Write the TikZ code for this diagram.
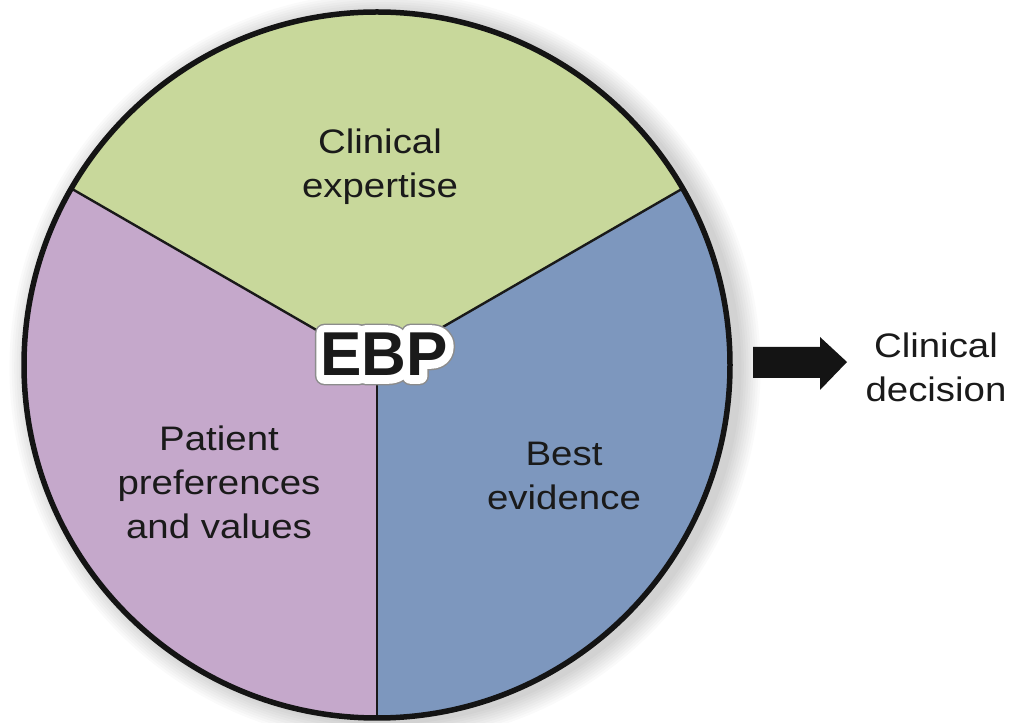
\documentclass[tikz,border=0pt]{standalone}
\usepackage{fontspec}
\setmainfont{Liberation Sans}
\newfontfamily\labelfont[FakeStretch=1.13]{Liberation Sans}
\usetikzlibrary{calc}
\definecolor{pieGreen}{HTML}{C8D89B}
\definecolor{piePurple}{HTML}{C5A8CB}
\definecolor{pieBlue}{HTML}{7D97BE}
\definecolor{inkText}{HTML}{1A1A1A}
\newcommand\haloword[3]{{\color{white}\special{pdf:literal direct #1 RG 1 j 1 J #2 w 1 Tr}#3\special{pdf:literal direct 0 Tr}}}
\tikzset{
  sectorlabel/.style={align=center, inner sep=0pt, text=inkText,
    font=\labelfont\fontsize{34}{44}\selectfont},
  divider/.style={draw=black!90, line width=2.4pt},
  rim/.style={draw=black!92, line width=5.5pt},
  ebptext/.style={inner sep=0pt, font=\bfseries\fontsize{62}{62}\selectfont}
}
\begin{document}
\begin{tikzpicture}[x=1pt,y=1pt]
\useasboundingbox (0,0) rectangle (1013,723);
\fill[white] (0,0) rectangle (1013,723);
\def\R{353}
\coordinate (C) at (377,358);
% soft shadow
\foreach \i in {1,...,9}{
  \fill[black, opacity=0.02] ($(C)+(8,-3)$) circle ({354+2.4*\i});
}
% sectors
\fill[pieGreen]  (C) -- ++(30:\R) arc[start angle=30, end angle=150, radius=\R] -- cycle;
\fill[piePurple] (C) -- ++(150:\R) arc[start angle=150, end angle=270, radius=\R] -- cycle;
\fill[pieBlue]   (C) -- ++(270:\R) arc[start angle=270, end angle=390, radius=\R] -- cycle;
\coordinate (d1) at ($(C)+(30:\R)$);
\coordinate (d2) at ($(C)+(150:\R)$);
\coordinate (d3) at ($(C)+(270:\R)$);
\draw[divider] (C) -- (d1);
\draw[divider] (C) -- (d2);
\draw[divider] (C) -- (d3);
\draw[rim] (C) circle (\R);
% labels
\node[sectorlabel] (clin) at (380,555.8) {Clinical\\expertise};
\node[sectorlabel] (pat) at (219,240.4) {Patient\\preferences\\and values};
\node[sectorlabel] (best) at (564,247.4) {Best\\evidence};
\node[sectorlabel] (dec) at (936,355.4) {Clinical\\decision};
% EBP with white halo
\node[ebptext, text=inkText] (ebp) at (384,368.5)
  {\rlap{\haloword{0.55 0.55 0.55}{19}{EBP}}\rlap{\haloword{1 1 1}{16}{EBP}}EBP};
% block arrow
\coordinate (a0) at (753,361);
\coordinate (tip) at (847,361);
\fill[black!92] (753,376) -- (820,376) -- (820,386) -- (tip) -- (820,333) -- (820,345) -- (753,345) -- cycle;
\end{tikzpicture}
\end{document}
